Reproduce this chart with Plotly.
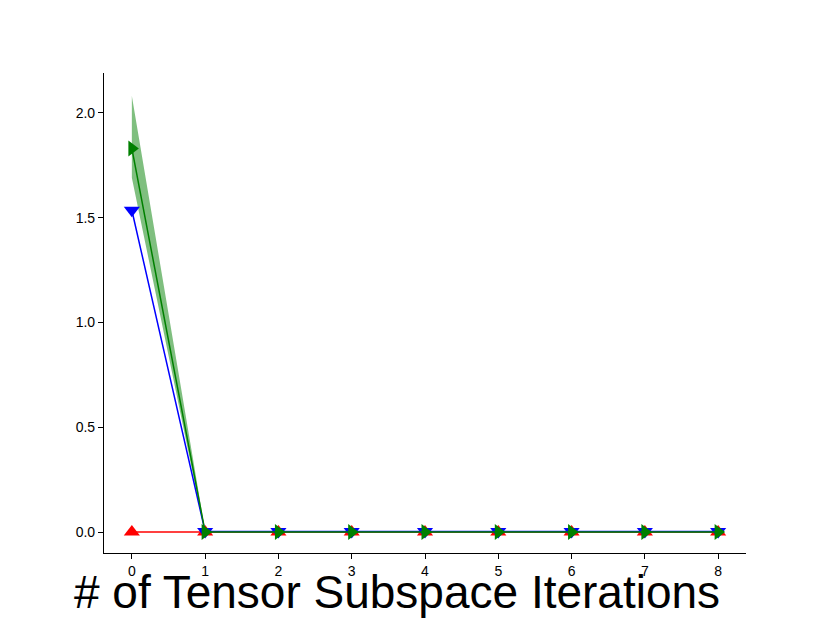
import plotly.graph_objects as go

iters = [0, 1, 2, 3, 4, 5, 6, 7, 8]
red_vals = [0, 0, 0, 0, 0, 0, 0, 0, 0]
blue_vals = [1.535, 0.002, 0.002, 0.002, 0.002, 0.002, 0.002, 0.002, 0.002]
green_vals = [1.83, 0, 0, 0, 0, 0, 0, 0, 0]
green_hi = [2.08, 0.005, 0.005, 0.005, 0.005, 0.005, 0.005, 0.005, 0.005]
green_lo = [1.69, -0.005, -0.005, -0.005, -0.005, -0.005, -0.005, -0.005, -0.005]

fig = go.Figure()

# shaded band for the green series
fig.add_trace(go.Scatter(x=iters, y=green_hi, mode="lines", line=dict(width=0),
                         showlegend=False, hoverinfo="skip"))
fig.add_trace(go.Scatter(x=iters, y=green_lo, mode="lines", line=dict(width=0),
                         fill="tonexty", fillcolor="rgba(0,128,0,0.5)",
                         showlegend=False, hoverinfo="skip"))

fig.add_trace(go.Scatter(x=iters, y=red_vals, mode="lines+markers",
                         line=dict(color="red", width=1.5),
                         marker=dict(symbol="triangle-up", size=14, color="red")))
fig.add_trace(go.Scatter(x=iters, y=blue_vals, mode="lines+markers",
                         line=dict(color="blue", width=1.5),
                         marker=dict(symbol="triangle-down", size=14, color="blue")))
fig.add_trace(go.Scatter(x=iters, y=green_vals, mode="lines+markers",
                         line=dict(color="green", width=1.5),
                         marker=dict(symbol="triangle-right", size=14, color="green")))

fig.update_layout(
    width=830, height=623,
    margin=dict(l=96, r=92, t=65, b=78),
    plot_bgcolor="white", paper_bgcolor="white",
    showlegend=False,
    font=dict(family="Liberation Sans, Arial, sans-serif", size=14, color="black"),
    xaxis=dict(range=[-0.38, 8.38], tickvals=iters, showgrid=False, zeroline=False,
               showline=True, linecolor="black", linewidth=1.2,
               ticks="outside", ticklen=5, tickcolor="black"),
    yaxis=dict(range=[-0.1, 2.19], tickvals=[0, 0.5, 1.0, 1.5, 2.0],
               ticktext=["0.0", "0.5", "1.0", "1.5", "2.0"],
               showgrid=False, zeroline=False,
               showline=True, linecolor="black", linewidth=1.2,
               ticks="outside", ticklen=5, tickcolor="black"),
)

fig.add_annotation(text="# of Tensor Subspace Iterations", xref="paper", yref="paper",
                   x=0.456, y=-0.081, xanchor="center", yanchor="middle", showarrow=False,
                   font=dict(size=46, color="black"))

fig.write_html("out.html")
